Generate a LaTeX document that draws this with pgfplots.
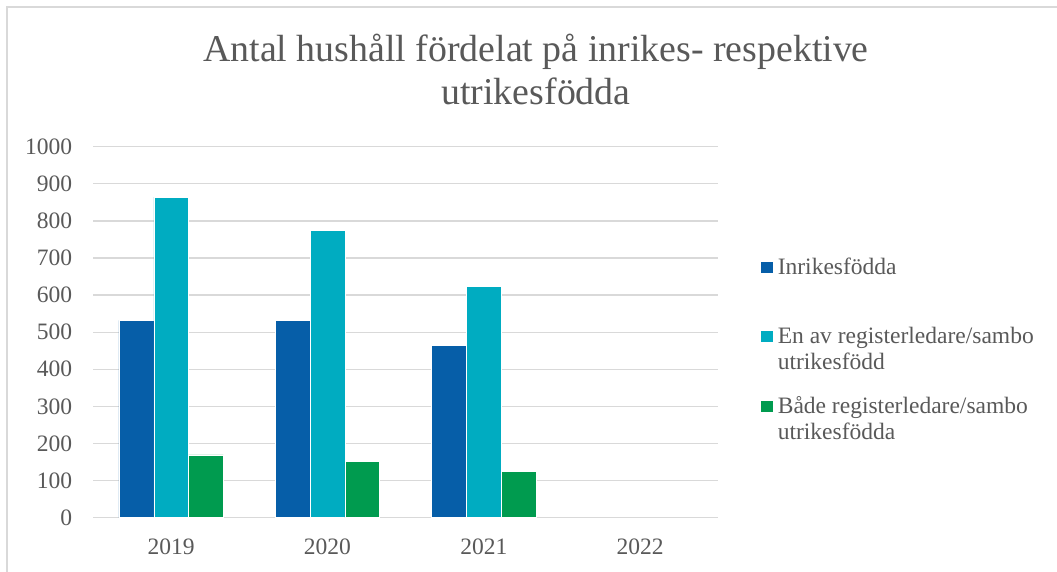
\documentclass[border=0pt]{standalone}
\usepackage{pgfplots}
\pgfplotsset{compat=1.18}
\usepackage{fontspec}
\setmainfont{Liberation Serif}

\definecolor{txt}{HTML}{595959}
\definecolor{gridgray}{HTML}{D9D9D9}
\definecolor{inrikes}{HTML}{065EA8}
\definecolor{enav}{HTML}{00ACC1}
\definecolor{bada}{HTML}{009B4F}

% legend entries, first line on the row's baseline
\newcommand{\entry}[1]{\parbox[t]{280bp}{\fontsize{23.6}{26.5}\selectfont #1}}

\begin{document}
\begin{tikzpicture}[x=1bp,y=1bp]
  \draw[gridgray, line width=1.3bp] (7,0) -- (7,565) -- (1057,565);
  \begin{axis}[
    at={(93bp,54.3bp)}, anchor=south west,
    scale only axis,
    width=625.3bp, height=371bp,
    ybar=0pt, bar width=34.8bp,
    xmin=-0.5, xmax=3.5,
    ymin=0, ymax=1000,
    xtick={0,1,2,3},
    xticklabels={2019,2020,2021,2022},
    ytick distance=100,
    major tick length=0pt,
    axis line style={draw=none},
    ymajorgrids,
    grid style={gridgray, line width=1.3bp},
    /pgf/number format/1000 sep={},
    /pgf/number format/assume math mode=true,
    tick label style={font=\fontsize{23.6}{26}\selectfont, text=txt, inner sep=0pt},
    yticklabel style={xshift=-20.7bp},
    xticklabel style={yshift=-20.5bp},
    title={Antal hushåll fördelat på inrikes- respektive\\[4bp]utrikesfödda},
    title style={at={(0.7085,1.098)}, anchor=base, align=center,
      font=\fontsize{38}{38.7}\selectfont, text=txt, inner sep=0pt},
    legend style={at={(1.0667,0.701)}, anchor=north west,
      draw=none, fill=none, inner sep=0pt, outer sep=0pt,
      nodes={inner sep=0pt, text=txt},
      column sep=4.6bp, row sep=51.5bp,
      cells={anchor=base west}},
    sq legend/.style={legend image code/.code={
      \fill[##1] (0bp,1.3bp) rectangle (12.7bp,13.3bp);}},
  ]
    \addplot[fill=inrikes, draw=white, line width=0.5bp, sq legend]
      coordinates {(0,532) (1,532) (2,465)};
    \addlegendentry{\entry{Inrikesfödda}}
    \addplot[fill=enav, draw=white, line width=0.5bp, sq legend]
      coordinates {(0,864) (1,775) (2,624)};
    \addlegendentry{\entry{En av registerledare/sambo\\utrikesfödd}}
    \addplot[fill=bada, draw=white, line width=0.5bp, sq legend]
      coordinates {(0,169) (1,152) (2,124)};
    \addlegendentry{\entry{Både registerledare/sambo\\utrikesfödda}}
  \end{axis}
  \pgfresetboundingbox
  \useasboundingbox (0,0) rectangle (1057,572);
\end{tikzpicture}
\end{document}
